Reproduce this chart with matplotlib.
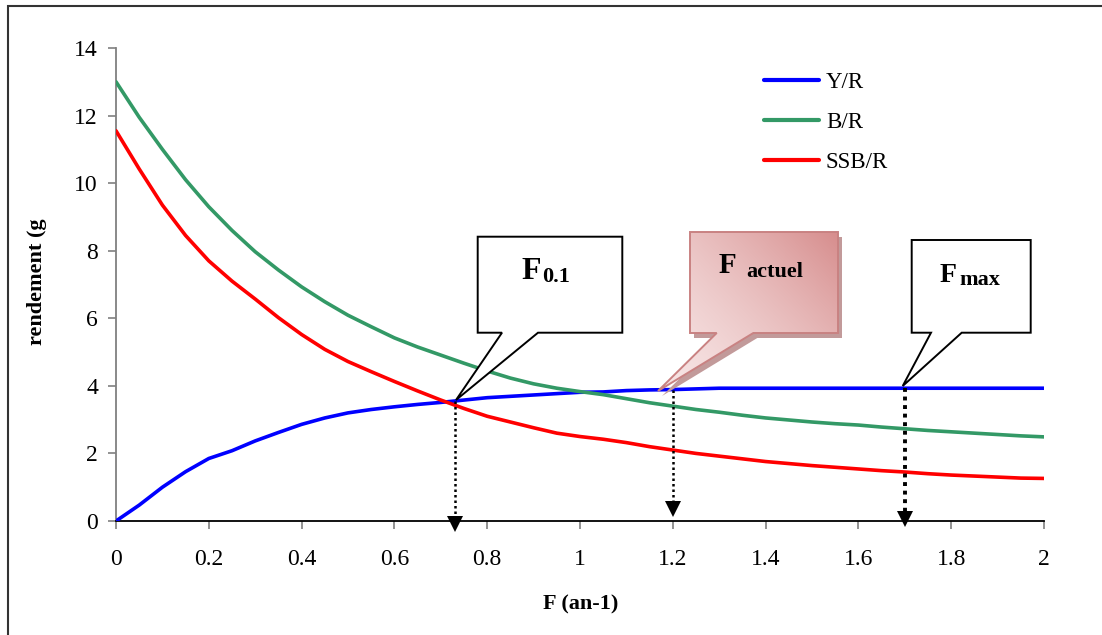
import numpy as np
import matplotlib
matplotlib.use("Agg")
import matplotlib.pyplot as plt
from matplotlib.patches import Polygon, Rectangle

# ---------------- data ----------------
F = [0.00, 0.05, 0.10, 0.15, 0.20, 0.25, 0.30, 0.35, 0.40, 0.45,
     0.50, 0.55, 0.60, 0.65, 0.70, 0.75, 0.80, 0.85, 0.90, 0.95,
     1.00, 1.05, 1.10, 1.15, 1.20, 1.25, 1.30, 1.35, 1.40, 1.45,
     1.50, 1.55, 1.60, 1.65, 1.70, 1.75, 1.80, 1.85, 1.90, 1.95, 2.00]
YR = [0.00, 0.47, 1.00, 1.46, 1.85, 2.08, 2.37, 2.62, 2.86, 3.05,
      3.20, 3.30, 3.38, 3.45, 3.51, 3.58, 3.65, 3.69, 3.73, 3.77,
      3.81, 3.82, 3.86, 3.88, 3.89, 3.91, 3.93, 3.93, 3.93, 3.93,
      3.93, 3.93, 3.93, 3.93, 3.93, 3.93, 3.93, 3.93, 3.93, 3.93, 3.93]
BR = [13.00, 11.95, 11.00, 10.10, 9.30, 8.60, 7.97, 7.43, 6.93, 6.49,
      6.09, 5.75, 5.42, 5.15, 4.91, 4.67, 4.44, 4.23, 4.06, 3.93,
      3.83, 3.74, 3.62, 3.50, 3.40, 3.30, 3.22, 3.13, 3.05, 2.99,
      2.93, 2.88, 2.84, 2.78, 2.73, 2.68, 2.64, 2.60, 2.56, 2.52, 2.49]
SSBR = [11.55, 10.42, 9.35, 8.45, 7.70, 7.10, 6.57, 6.02, 5.52, 5.08,
        4.72, 4.42, 4.13, 3.85, 3.58, 3.33, 3.10, 2.93, 2.76, 2.60,
        2.50, 2.42, 2.32, 2.20, 2.10, 2.00, 1.92, 1.84, 1.76, 1.70,
        1.64, 1.59, 1.54, 1.49, 1.45, 1.40, 1.36, 1.33, 1.30, 1.27, 1.26]
series_labels = ["Y/R", "B/R", "SSB/R"]
ref_names = ["0.1", "actuel", "max"]
ref_F = [0.73, 1.20, 1.70]
ref_val = [3.55, 3.89, 3.93]
x_ticks = [0, 0.2, 0.4, 0.6, 0.8, 1, 1.2, 1.4, 1.6, 1.8, 2]
x_ticklabels = ["0", "0.2", "0.4", "0.6", "0.8", "1", "1.2", "1.4", "1.6", "1.8", "2"]
y_ticks = [0, 2, 4, 6, 8, 10, 12, 14]
xlabel = "F (an-1)"
ylabel = "rendement (g"

# ---------------- figure ----------------
W, H = 1102, 635
plt.rcParams['font.family'] = ['Liberation Serif', 'DejaVu Serif']
fig = plt.figure(figsize=(W / 100, H / 100), dpi=100)


def fx(px):
    return px / W


def fy(py):
    return 1 - py / H


X0, X1, Y0, Y1 = 116, 1044, 521, 48
ax = fig.add_axes([fx(X0), fy(Y0), fx(X1) - fx(X0), fy(Y1) - fy(Y0)])
ax.set_xlim(0, 2)
ax.set_ylim(0, 14)


def dx(px):
    return (px - X0) / (X1 - X0) * 2.0


def dy(py):
    return (Y0 - py) / (Y0 - Y1) * 14.0


colors = ["#0000ff", "#339966", "#ff0000"]
for vals, lab, c in zip([YR, BR, SSBR], series_labels, colors):
    ax.plot(F, vals, color=c, lw=2.6, label=lab, solid_capstyle='round', zorder=3)

for s in ["top", "right"]:
    ax.spines[s].set_visible(False)
ax.spines["left"].set_color("#808080")
ax.spines["left"].set_linewidth(1.3)
ax.spines["bottom"].set_color("black")
ax.spines["bottom"].set_linewidth(1.3)
ax.set_xticks(x_ticks)
ax.set_xticklabels(x_ticklabels)
ax.set_yticks(y_ticks)
ax.tick_params(axis='both', direction='out', length=6, width=1.2, color="#808080",
               labelsize=17)
ax.tick_params(axis='y', pad=7)
ax.tick_params(axis='x', pad=14)

fig.text(fx(581), fy(604), xlabel, ha='center', va='center', fontsize=16,
         fontweight='bold')
fig.text(fx(37), fy(282), ylabel, ha='center', va='center', fontsize=16,
         fontweight='bold', rotation=90)

# legend
leg = ax.legend(loc='upper left', bbox_to_anchor=(fx(764), fy(72)),
                bbox_transform=fig.transFigure, frameon=False, fontsize=16.5,
                handlelength=2.4, handletextpad=0.3, labelspacing=0.82,
                borderpad=0, borderaxespad=0)
for ln in leg.get_lines():
    ln.set_linewidth(3)

# ---------------- dotted arrows ----------------
head_px = [524, 509, 519]
lws = [1.8, 1.8, 2.8]
for f, v, hp, lw in zip(ref_F, ref_val, head_px, lws):
    ax.plot([f, f], [v, dy(hp - 6)], color='black', lw=lw, ls=(0, (1, 1.2)),
            zorder=4, clip_on=False)
    ax.plot([f], [dy(hp)], marker='v', color='black', markersize=11,
            zorder=5, clip_on=False, markeredgewidth=0)


# ---------------- callouts ----------------
def callout(box, base, tip):
    (bx0, by0, bx1, by1) = box
    (t0, t1) = base
    pts = [(bx0, by0), (bx1, by0), (bx1, by1), (t1, by1), tip, (t0, by1), (bx0, by1)]
    return [(dx(px), dy(py)) for px, py in pts]


# F0.1 (white)
pts1 = callout((477.7, 236.7, 622.3, 332.7), (502, 538), (456, 400))
ax.add_patch(Polygon(pts1, closed=True, facecolor='white', edgecolor='black',
                     lw=1.4, zorder=6, joinstyle='miter'))

# Fmax (white)
pts3 = callout((911.7, 240, 1030.7, 332.7), (931, 961.7), (902.7, 386))
ax.add_patch(Polygon(pts3, closed=True, facecolor='white', edgecolor='black',
                     lw=1.4, zorder=6, joinstyle='miter'))

# F actuel (pink gradient with shadow)
box2 = (690, 232, 838, 333)
pts2 = callout(box2, (716.7, 753.3), (658, 391))
sx = dx(X0 + 4)
sy = dy(Y0 - 5)
pts2_sh = [(x + sx, y - sy) for x, y in pts2]
ax.add_patch(Polygon(pts2_sh, closed=True, facecolor='#c29a9a', edgecolor='none',
                     zorder=6))
poly2 = Polygon(pts2, closed=True, facecolor='none', edgecolor='#c98282',
                lw=1.4, zorder=8, joinstyle='miter')
ax.add_patch(poly2)
clip2 = Polygon(pts2, closed=True, facecolor='none', edgecolor='none',
                transform=ax.transData)
ax.add_patch(clip2)
gx0, gx1 = dx(655), dx(840)
gy0, gy1 = dy(392), dy(231)
nx, ny = 120, 120
u = np.linspace(0, 1, nx)[None, :]
v = np.linspace(0, 1, ny)[:, None]
t = np.clip(0.55 * u + 0.45 * v, 0, 1) ** 1.5
light = np.array([0.97, 0.90, 0.90])
dark = np.array([0.84, 0.55, 0.55])
img = light[None, None, :] + (dark - light)[None, None, :] * t[:, :, None]
im = ax.imshow(img, extent=[gx0, gx1, gy0, gy1], origin='lower', aspect='auto',
               interpolation='bilinear', zorder=7)
im.set_clip_path(clip2)
ax.set_xlim(0, 2)
ax.set_ylim(0, 14)


# callout texts
def sub_text(xF, yb, xs, ysb, big, small, sbig, ssmall):
    fig.text(fx(xF), fy(yb), big, ha='left', va='baseline', fontsize=sbig,
             fontweight='bold', zorder=10)
    fig.text(fx(xs), fy(ysb), small, ha='left', va='baseline', fontsize=ssmall,
             fontweight='bold', zorder=10)


sub_text(521, 279, 542, 282, "F", ref_names[0], 23, 16)
sub_text(719, 273, 746, 277, "F", ref_names[1], 21, 16)
sub_text(940, 282, 959, 285, "F", ref_names[2], 20, 16)

# outer frame
fig.patches.append(Rectangle((fx(8), fy(660)), fx(1120) - fx(8), fy(6) - fy(660),
                             transform=fig.transFigure, fill=False,
                             edgecolor='#333333', lw=1.5))

fig.savefig("out.png", dpi=100)
